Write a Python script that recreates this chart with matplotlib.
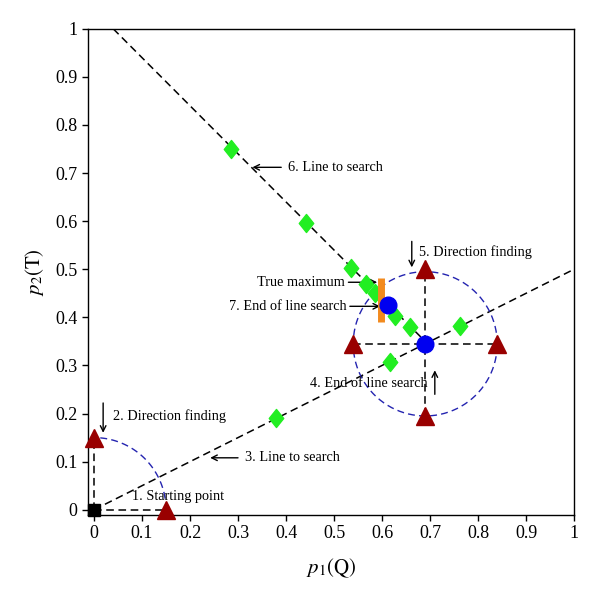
import numpy as np
import matplotlib
matplotlib.use("Agg")
import matplotlib.pyplot as plt
from matplotlib.path import Path

plt.rcParams['font.family'] = ['Liberation Serif', 'DejaVu Serif']
plt.rcParams['mathtext.fontset'] = 'stix'

# ---- data ----
start_x = [0.0]
start_y = [0.0]
tri_x = [0.0, 0.15, 0.54, 0.84, 0.69, 0.69]
tri_y = [0.15, 0.0, 0.345, 0.345, 0.50, 0.195]
dia_x = [0.38, 0.617, 0.762, 0.285, 0.442, 0.535, 0.567, 0.585, 0.627, 0.658]
dia_y = [0.19, 0.308, 0.383, 0.75, 0.597, 0.502, 0.469, 0.45, 0.402, 0.379]
blue_x = [0.69, 0.612]
blue_y = [0.345, 0.425]
true_max_x = 0.598
true_max_y = [0.39, 0.481]
line3_x = [0.0, 1.0]
line3_y = [0.0, 0.5]
line6_x = [0.04, 0.69]
line6_y = [1.0, 0.35]
small_r = 0.15
big_center = (0.69, 0.345)
big_r = 0.15
ticks = [0, 0.1, 0.2, 0.3, 0.4, 0.5, 0.6, 0.7, 0.8, 0.9, 1]
tick_labels = ['0', '0.1', '0.2', '0.3', '0.4', '0.5', '0.6', '0.7', '0.8', '0.9', '1']

fig = plt.figure(figsize=(6, 6), dpi=100)
ax = fig.add_axes([0.1467, 0.142, 0.81, 0.81])

dash = dict(color='black', ls=(0, (5, 3)), lw=1.1, zorder=2)
ax.plot([0, 0.15], [0, 0], **dash)
ax.plot([0, 0], [0, 0.15], **dash)
ax.plot(line3_x, line3_y, **dash)
ax.plot(line6_x, line6_y, **dash)
ax.plot([tri_x[2], tri_x[3]], [tri_y[2], tri_y[3]], **dash)
ax.plot([tri_x[5], tri_x[4]], [tri_y[5], tri_y[4]], **dash)

th = np.linspace(0, np.pi / 2, 100)
ax.plot(small_r * np.cos(th), small_r * np.sin(th), color='#2424B0', ls=(0, (5, 3)), lw=1.0, zorder=2)
th2 = np.linspace(0, 2 * np.pi, 300)
ax.plot(big_center[0] + big_r * np.cos(th2), big_center[1] + big_r * np.sin(th2),
        color='#2424B0', ls=(0, (5, 3)), lw=1.0, zorder=2)

diamond = Path([(0, 1), (0.8, 0), (0, -1), (-0.8, 0), (0, 1)],
               [Path.MOVETO, Path.LINETO, Path.LINETO, Path.LINETO, Path.CLOSEPOLY])
ax.plot(dia_x, dia_y, marker=diamond, ls='none', color='#22EE22', ms=13, mec='#22EE22', zorder=4)
ax.plot([true_max_x, true_max_x], true_max_y, color='#F28A1E', lw=5, solid_capstyle='butt', zorder=5)
ax.plot(tri_x, tri_y, '^', color='#990000', ms=13, zorder=6, clip_on=False)
ax.plot(blue_x, blue_y, 'o', color='#0000F0', ms=12, zorder=7)
ax.plot(start_x, start_y, 's', color='black', ms=9, zorder=7, clip_on=False)

fs = 10.3
arrow = dict(arrowstyle='->', color='black', lw=1.0, shrinkA=0, shrinkB=0)
ax.text(0.079, 0.027, '1. Starting point', fontsize=fs, va='center', ha='left')
ax.annotate('', xy=(0.019, 0.16), xytext=(0.019, 0.222), arrowprops=arrow)
ax.text(0.04, 0.194, '2. Direction finding', fontsize=fs, va='center', ha='left')
ax.annotate('', xy=(0.242, 0.108), xytext=(0.30, 0.108), arrowprops=arrow)
ax.text(0.315, 0.108, '3. Line to search', fontsize=fs, va='center', ha='left')
ax.annotate('', xy=(0.71, 0.29), xytext=(0.71, 0.24), arrowprops=arrow)
ax.text(0.45, 0.263, '4. End of line search', fontsize=fs, va='center', ha='left')
ax.annotate('', xy=(0.662, 0.504), xytext=(0.662, 0.558), arrowprops=arrow)
ax.text(0.677, 0.535, '5. Direction finding', fontsize=fs, va='center', ha='left')
ax.annotate('', xy=(0.33, 0.712), xytext=(0.39, 0.712), arrowprops=arrow)
ax.text(0.405, 0.712, '6. Line to search', fontsize=fs, va='center', ha='left')
ax.annotate('', xy=(0.59, 0.473), xytext=(0.53, 0.473), arrowprops=arrow)
ax.text(0.523, 0.473, 'True maximum', fontsize=fs, va='center', ha='right')
ax.annotate('', xy=(0.596, 0.423), xytext=(0.533, 0.423), arrowprops=arrow)
ax.text(0.527, 0.423, '7. End of line search', fontsize=fs, va='center', ha='right')

ax.set_xlim(-0.0125, 1)
ax.set_ylim(-0.0105, 1)
ax.set_xticks(ticks)
ax.set_xticklabels(tick_labels)
ax.set_yticks(ticks)
ax.set_yticklabels(tick_labels)
ax.tick_params(direction='out', length=4, width=1, labelsize=13, top=False, right=False)
for s in ax.spines.values():
    s.set_linewidth(1.0)
ax.set_xlabel(r'$p_1(\mathrm{Q})$', fontsize=15, labelpad=10)
ax.set_ylabel(r'$p_2(\mathrm{T})$', fontsize=15, labelpad=7)

fig.savefig('out.png', dpi=100)
